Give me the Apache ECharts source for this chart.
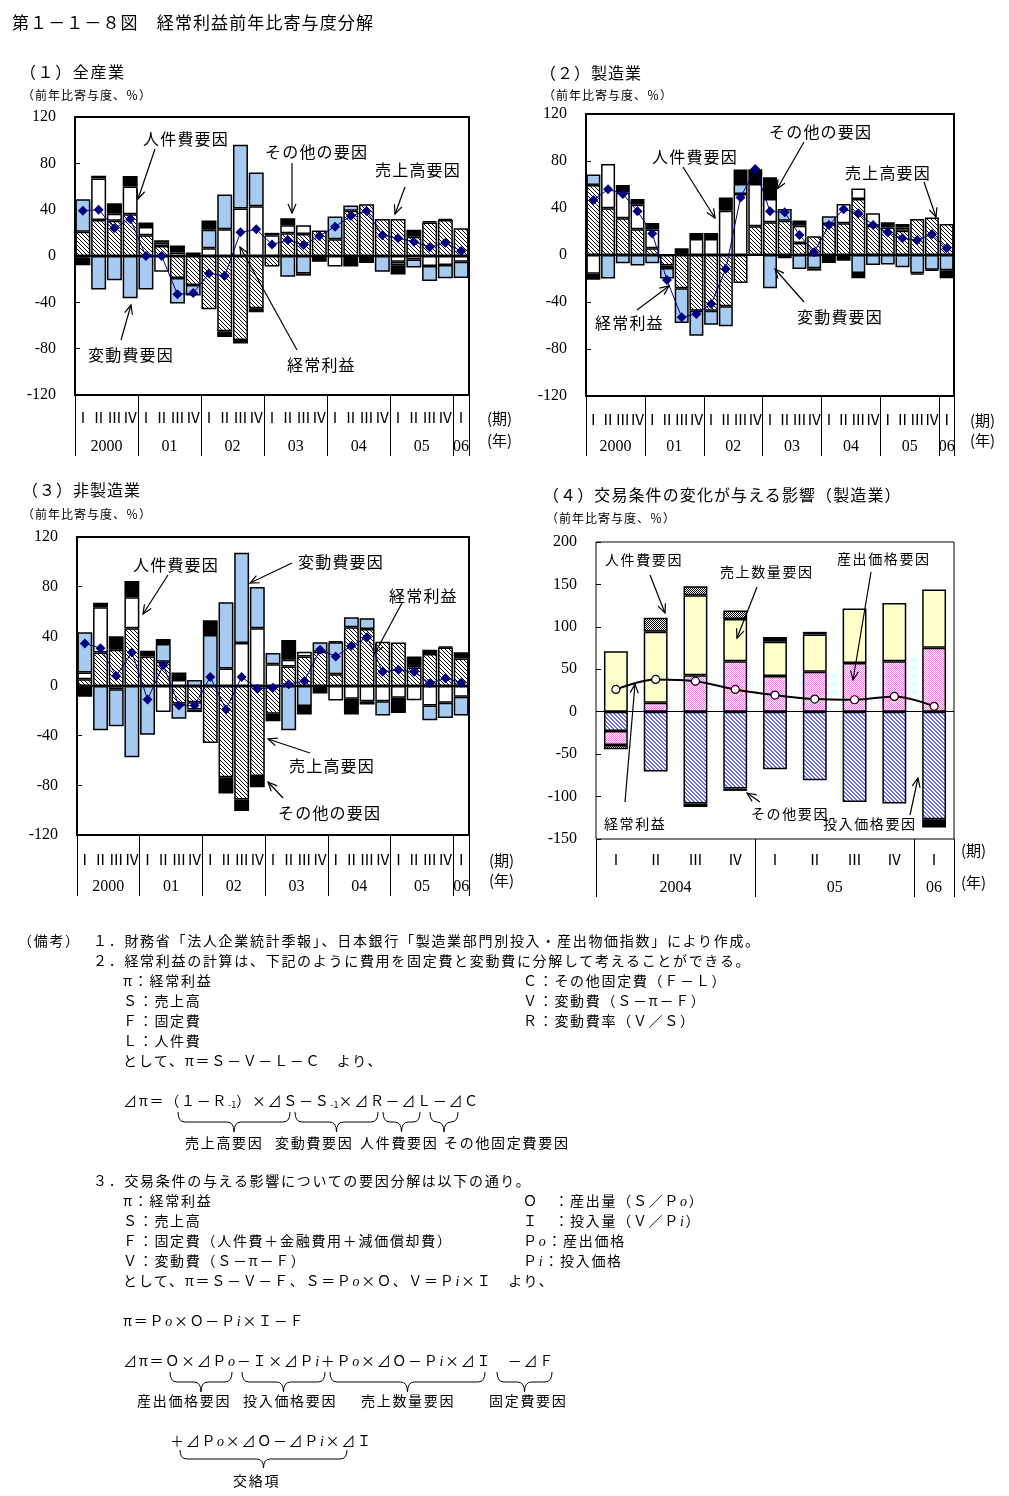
<!DOCTYPE html>
<html><head><meta charset="utf-8">
<script src="https://cdn.jsdelivr.net/npm/echarts@6/dist/echarts.min.js"></script>
<style>
body{margin:0;background:#fff;width:1009px;height:1496px;overflow:hidden;}
#c{position:absolute;left:0;top:0;width:1009px;height:1496px;}
.t{position:absolute;white-space:nowrap;font-family:'Noto Sans CJK JP',sans-serif;color:#000;line-height:20px;}
.t sub{font-size:9px;vertical-align:-2px;letter-spacing:0}
.t i{font-family:'Liberation Serif',serif;font-size:14px;}
#br{position:absolute;left:0;top:0;pointer-events:none;}
</style></head><body>
<div id="c"></div>
<svg id="br" width="1009" height="1496"></svg>
<script>
// ---------------- data ----------------
const quarterLabels = ['Ⅰ','Ⅱ','Ⅲ','Ⅳ','Ⅰ','Ⅱ','Ⅲ','Ⅳ','Ⅰ','Ⅱ','Ⅲ','Ⅳ','Ⅰ','Ⅱ','Ⅲ','Ⅳ','Ⅰ','Ⅱ','Ⅲ','Ⅳ','Ⅰ','Ⅱ','Ⅲ','Ⅳ','Ⅰ'];
const yearLabels = ['2000','01','02','03','04','05','06'];
const yearLabelPos = [2,6,10,14,18,22,24.5];
const yearBounds = [0,4,8,12,16,20,24,25];
const yTicks = {min:-120,max:120,interval:40};

// (1) 全産業
const all_sales    = [21,31,30.5,36,18,8.6,-19,-25,-46,-65,-72.5,-45,-9,19.6,19,22,14.4,39,44.6,32,32,16.7,29,31,24];
const all_labor    = [-1,36,6,24,7,-13.5,3,0,6.6,23,41,43,18,7,7.5,0,-9,0,0,0,-5,-3,-8.6,-7.8,-5];
const all_varcost  = [28,-29,-21,-36.5,-29,3,-22,-9,16,30,55,29,0,-18,-15,0,19.6,4.7,0,-13.5,-3,-7,-13,-11.5,-14];
const all_other    = [-7,2.3,9,9,4,2,6,3,8,-5,-3,-3.5,2,6,-2,-5,0,-9,-6,0,-8,6,1,1,0];
const all_profit   = [39,40,24,32,0,0,-33,-32,-15,-17,20.4,23,10,13.8,9.5,17.3,25.3,34.5,38.8,18,15.3,12.4,7.5,11.5,4.3];

// (2) 製造業
const mfg_sales    = [59.6,39.7,31.2,22,5.7,-9,-28.4,-47.4,-47.4,-43.7,-23.8,24.4,27.8,29.2,10.2,15.9,26.4,27,47.7,25,23.5,20.7,30.6,32,26.4];
const mfg_labor    = [-16,37.7,22,20.8,15.9,-2,0,13.6,13.6,37.7,52,36,19.9,0,14.8,0,0,16.5,9,10.5,0,2.8,0,0,0];
const mfg_varcost  = [9,-20,-7,-9,-7,-9,-29.5,-21.3,-12,-17,8.5,0,-28.4,10,-11.9,-11.3,6.5,0,-15.3,-8.5,-8,-10.5,-15.6,-12.5,-13];
const mfg_other    = [-5,0,6.3,4.9,5.6,0,5.7,5.1,5.1,11.3,12.2,12.6,18.4,-2.8,4.3,-2,-6.8,-4.8,-4.5,0,4.3,2.8,-1,-1,-6.8];
const mfg_profit   = [46.8,55.9,52,37.2,18.4,-21.3,-53,-50.2,-41.7,-11.9,49,73.2,37.2,36.3,17,2.3,25.5,39,35.5,25.5,19.3,14.2,12.8,17.6,5.7];

// (3) 非製造業
const non_sales    = [5.4,27,29.2,46.5,23.8,19.5,-14,-13,-46,-73.5,-91.4,-72.4,-22.4,15.7,23.8,27.6,9.5,47.3,46,35.7,35.1,14.9,25.7,31,22.2];
const non_labor    = [5.4,36.5,-2.7,25,0,-21,4.9,-6,0,14,34.6,46.5,17.6,5.4,3.8,0,-11.6,-10.3,-12.2,-12.2,-9.5,-11.4,-15.7,-13.5,-8.6];
const non_varcost  = [32.4,-35.7,-29.7,-57.3,-39.2,14.3,-12.4,4.9,41,53.5,72.7,33.2,8.9,-35.7,-16.2,7.6,25.7,8.1,8.6,-11.6,0,0,-11.9,-12.2,-15.1];
const non_other    = [-8.6,3.5,10.8,13,4.6,4,6,-2,11.9,-13,-9.2,-9.2,-6,15.9,-6.8,-6,1,-12.7,-2.7,0,-12.2,8.9,3.5,0.8,4.9];
const non_profit   = [34.3,30.5,8.1,27,-10.8,16.8,-15.7,-15.7,7.3,-18.9,7.3,-2.2,-1.4,1.4,4,29.2,23.8,32.4,39.2,11.4,13,11.4,2.2,6.2,2.7];

// (4) 交易条件の変化が与える影響（製造業）
const tot_quarterLabels = ['Ⅰ','Ⅱ','Ⅲ','Ⅳ','Ⅰ','Ⅱ','Ⅲ','Ⅳ','Ⅰ'];
const tot_yearLabels = ['2004','05','06'];
const tot_yearLabelPos = [2,6,8.5];
const tot_yearBounds = [0,4,8,9];
const tot_inputPrice  = [-22.7,-70.6,-108.2,-90.6,-67.8,-80.8,-106.3,-108.2,-126.7];
const tot_outputPrice = [-16.5,10.6,43.1,59.6,42,47,57.3,59.6,75.3];
const tot_quantity    = [71.4,83.5,94.1,49.8,40.4,44,64.3,68.6,68.6];
const tot_labor       = [-5,16.5,10.6,9.8,0,3.1,0,0,0];
const tot_other       = [0,0,-4,-2.7,5.5,0,0,0,-9.8];
const tot_profit      = [26.3,38,36,26.3,19.6,14.9,14.1,18,6.3];

// ---------------- patterns ----------------
function pat(size, draw){ const c=document.createElement('canvas'); c.width=c.height=size; const g=c.getContext('2d'); g.fillStyle='#fff'; g.fillRect(0,0,size,size); draw(g,size); return {image:c, repeat:'repeat'}; }
const hatchBlack = pat(4,(g,s)=>{g.fillStyle='#000'; for(let i=0;i<s;i++) g.fillRect(i,i,1,1);});
const hatchBlue  = pat(4,(g,s)=>{g.fillStyle='#6f6fe6'; for(let i=0;i<s;i++){g.fillRect(i,i,1,1); g.fillRect((i+1)%s,i,1,1);}});
const dotPink    = pat(2,(g)=>{g.fillStyle='#f37fe2'; g.fillRect(0,0,1,1); g.fillRect(1,1,1,1);});
const dotBlack   = pat(2,(g)=>{g.fillStyle='#000'; g.fillRect(0,0,1,1); g.fillRect(1,1,1,1);});

// ---------------- option ----------------
const option = {animation:false, backgroundColor:'#fff', grid:[], xAxis:[], yAxis:[], series:[], graphic:[]};
const SERIF = 'Liberation Serif';
const CJK = 'Noto Sans CJK JP';
function nz(a){ return a.map(v=> v===0 ? '-' : v); }

function addPanel(k, g, cats, yl, ylp, yb, ymin, ymax, yint, bw, tickLen, mRoman, mYear) {
  option.grid.push(Object.assign({show:true, borderColor:'#000', borderWidth:bw, backgroundColor:'#fff'}, g));
  option.xAxis.push({type:'category', gridIndex:k, data:cats, boundaryGap:true,
    axisLine:{show:false,onZero:false}, axisTick:{show:false},
    axisLabel:{interval:0, margin:mRoman, fontSize:15, fontFamily:CJK, color:'#000'}});
  option.xAxis.push({type:'value', gridIndex:k, min:0, max:cats.length, position:'bottom',
    axisLine:{show:false,onZero:false}, splitLine:{show:false},
    axisTick:{show:true, customValues:yb, length:tickLen, lineStyle:{color:'#000',width:1}},
    axisLabel:{customValues:ylp, margin:mYear, fontSize:16, fontFamily:SERIF, color:'#000',
      formatter:(v)=> yl[ylp.indexOf(v)] }});
  option.yAxis.push({type:'value', gridIndex:k, min:ymin, max:ymax, interval:yint,
    axisLine:{show:false}, splitLine:{show:false},
    axisTick:{show:true, inside:true, length:5, lineStyle:{color:'#000'}},
    axisLabel:{margin:19, fontSize:16, fontFamily:SERIF, color:'#000'}});
}
function bar(k, name, data, color, gap){
  option.series.push({type:'bar', name, xAxisIndex:2*k, yAxisIndex:k, stack:'s'+k, data:nz(data),
    barCategoryGap:gap, itemStyle:{color, borderColor:'#000', borderWidth:1.5}});
}
function lineS(k, data, isTot){
  option.series.push(isTot ? {
    type:'line', xAxisIndex:2*k, yAxisIndex:k, data, smooth:0.35, symbol:'circle', symbolSize:8, z:5,
    lineStyle:{color:'#000', width:2}, itemStyle:{color:'#fff', borderColor:'#000', borderWidth:1.2},
    markLine:{silent:true, symbol:'none', label:{show:false}, data:[{yAxis:0}], lineStyle:{color:'#000',width:1,type:'solid'}}
  } : {
    type:'line', xAxisIndex:2*k, yAxisIndex:k, data, symbol:'diamond', symbolSize:10, z:5,
    lineStyle:{color:'#000080', width:1}, itemStyle:{color:'#000080'},
    markLine:{silent:true, symbol:'none', label:{show:false}, data:[{yAxis:0}], lineStyle:{color:'#000',width:2,type:'solid'}}
  });
}

addPanel(0,{left:75,top:117,width:394,height:278}, quarterLabels, yearLabels, yearLabelPos, yearBounds, yTicks.min, yTicks.max, yTicks.interval, 2, 61, 15, 44);
addPanel(1,{left:586,top:114,width:368,height:282}, quarterLabels, yearLabels, yearLabelPos, yearBounds, yTicks.min, yTicks.max, yTicks.interval, 2, 60, 16, 43);
addPanel(2,{left:77,top:537,width:392,height:298}, quarterLabels, yearLabels, yearLabelPos, yearBounds, yTicks.min, yTicks.max, yTicks.interval, 2, 61, 17, 44);
addPanel(3,{left:596,top:542,width:358,height:297}, tot_quarterLabels, tot_yearLabels, tot_yearLabelPos, tot_yearBounds, -150, 200, 50, 1, 58, 13, 41);

const panels = [[all_sales,all_labor,all_varcost,all_other,all_profit],[mfg_sales,mfg_labor,mfg_varcost,mfg_other,mfg_profit],[non_sales,non_labor,non_varcost,non_other,non_profit]];
panels.forEach((p,k)=>{
  bar(k,'売上高要因',p[0],hatchBlack,'5%');
  bar(k,'人件費要因',p[1],'#fff','5%');
  bar(k,'変動費要因',p[2],'#a6caf0','5%');
  bar(k,'その他の要因',p[3],'#000','5%');
  lineS(k,p[4],false);
});
bar(3,'投入価格要因',tot_inputPrice,hatchBlue,'40%');
bar(3,'産出価格要因',tot_outputPrice,dotPink,'40%');
bar(3,'売上数量要因',tot_quantity,'#ffffcc','40%');
bar(3,'人件費要因',tot_labor,dotBlack,'40%');
bar(3,'その他要因',tot_other,'#000','40%');
lineS(3,tot_profit,true);

// annotation arrows
const arrows = [
 [155,149,138,199],[292,163,292,213],[405,187,395,214],[121,340,131,305],[297,350,240,247],
 [683,167,715,218],[804,142,777,189],[924,182,936,217],[637,310,669,286],[804,302,775,269],
 [168,575,143,614],[292,563,250,583],[402,603,375,653],[310,753,268,739],[283,798,268,782],
 [650,575,665,613],[757,587,737,638],[871,572,853,680],[625,802,635,684],[760,802,747,793],[910,815,918,778]
];
arrows.forEach(([x1,y1,x2,y2])=>{
  const a=Math.atan2(y2-y1,x2-x1), L=9, W=4;
  const bx=x2-L*Math.cos(a), by=y2-L*Math.sin(a);
  option.graphic.push({type:'line', z:100, shape:{x1,y1,x2,y2}, style:{stroke:'#000', lineWidth:1.2}});
  option.graphic.push({type:'polyline', z:100, shape:{points:[[bx+W*Math.sin(a),by-W*Math.cos(a)],[x2,y2],[bx-W*Math.sin(a),by+W*Math.cos(a)]]}, style:{stroke:'#000', fill:null, lineWidth:1.2}});
});

const chart = echarts.init(document.getElementById('c'), null, {renderer:'canvas'});
chart.setOption(option);

// ---------------- text ----------------
function addText(x, cy, html, size, ls){
  const d=document.createElement('div'); d.className='t';
  d.style.left=x+'px'; d.style.top=(cy-10)+'px'; d.style.fontSize=size+'px'; d.style.letterSpacing=ls+'px';
  d.innerHTML=html; document.body.appendChild(d);
}
const titles = [
 [12,22,'第１－１－８図　経常利益前年比寄与度分解',17,1.1],
 [20,71,'（１）全産業',16,1.6],[22,95,'（前年比寄与度、％）',12,1],
 [540,72,'（２）製造業',16,1],[543,95,'（前年比寄与度、％）',12,1],
 [22,489,'（３）非製造業',16,1],[22,514,'（前年比寄与度、％）',12,1],
 [543,494,'（４）交易条件の変化が与える影響（製造業）',16,1.1],[546,518,'（前年比寄与度、％）',12,1],
 [487,418,'(期)',15,0],[487,440,'(年)',15,0],
 [970,420,'(期)',15,0],[970,440,'(年)',15,0],
 [489,860,'(期)',15,0],[489,880,'(年)',15,0],
 [961,850,'(期)',15,0],[961,882,'(年)',15,0]
];
const annot = [
 [143,138,'人件費要因',16,1.2],[265,151,'その他の要因',16,1.2],[375,169,'売上高要因',16,1.2],[88,354,'変動費要因',16,1.2],[287,364,'経常利益',16,1.2],
 [652,156,'人件費要因',16,1.2],[769,131,'その他の要因',16,1.2],[845,172,'売上高要因',16,1.2],[595,322,'経常利益',16,1.2],[797,316,'変動費要因',16,1.2],
 [133,564,'人件費要因',16,1.2],[298,561,'変動費要因',16,1.2],[389,595,'経常利益',16,1.2],[289,765,'売上高要因',16,1.2],[278,812,'その他の要因',16,1.2],
 [605,559,'人件費要因',14,1.6],[720,571,'売上数量要因',14,1.6],[837,558,'産出価格要因',14,1.6],[604,823,'経常利益',14,1.6],[751,813,'その他要因',14,1.6],[823,823,'投入価格要因',14,1.6]
];
const notes = [
 [18,940,'（備考）'],
 [93,940,'１．財務省「法人企業統計季報」、日本銀行「製造業部門別投入・産出物価指数」により作成。'],
 [93,960,'２．経常利益の計算は、下記のように費用を固定費と変動費に分解して考えることができる。'],
 [123,980,'π：経常利益'],[523,980,'Ｃ：その他固定費（Ｆ－Ｌ）'],
 [123,1000,'Ｓ：売上高'],[523,1000,'Ｖ：変動費（Ｓ－π－Ｆ）'],
 [123,1020,'Ｆ：固定費'],[523,1020,'Ｒ：変動費率（Ｖ／Ｓ）'],
 [123,1040,'Ｌ：人件費'],
 [123,1060,'として、π＝Ｓ－Ｖ－Ｌ－Ｃ　より、'],
 [123,1100,'⊿π＝（１－Ｒ<sub>-1</sub>）×⊿Ｓ－Ｓ<sub>-1</sub>×⊿Ｒ－⊿Ｌ－⊿Ｃ'],
 [185,1142,'売上高要因'],[275,1142,'変動費要因'],[360,1142,'人件費要因'],[444,1142,'その他固定費要因'],
 [93,1180,'３．交易条件の与える影響についての要因分解は以下の通り。'],
 [123,1200,'π：経常利益'],[523,1200,'Ｏ　：産出量（Ｓ／Ｐ<i>o</i>）'],
 [123,1220,'Ｓ：売上高'],[523,1220,'Ｉ　：投入量（Ｖ／Ｐ<i>i</i>）'],
 [123,1240,'Ｆ：固定費（人件費＋金融費用＋減価償却費）'],[523,1240,'Ｐ<i>o</i>：産出価格'],
 [123,1260,'Ｖ：変動費（Ｓ－π－Ｆ）'],[523,1260,'Ｐ<i>i</i>：投入価格'],
 [123,1280,'として、π＝Ｓ－Ｖ－Ｆ、Ｓ＝Ｐ<i>o</i>×Ｏ、Ｖ＝Ｐ<i>i</i>×Ｉ　より、'],
 [123,1320,'π＝Ｐ<i>o</i>×Ｏ－Ｐ<i>i</i>×Ｉ－Ｆ'],
 [123,1360,'⊿π＝Ｏ×⊿Ｐ<i>o</i>－Ｉ×⊿Ｐ<i>i</i>＋Ｐ<i>o</i>×⊿Ｏ－Ｐ<i>i</i>×⊿Ｉ　－⊿Ｆ'],
 [137,1400,'産出価格要因'],[243,1400,'投入価格要因'],[361,1400,'売上数量要因'],[489,1400,'固定費要因'],
 [170,1440,'＋⊿Ｐ<i>o</i>×⊿Ｏ－⊿Ｐ<i>i</i>×⊿Ｉ'],
 [233,1480,'交絡項']
];
titles.forEach(t=>addText(...t));
annot.forEach(t=>addText(...t));
notes.forEach(([x,y,h])=>addText(x,y,h,14,1.7));

// braces
const braces = [[178,290,1112,20],[295,378,1112,20],[383,420,1112,20],[430,458,1112,20],
                [170,232,1372,20],[242,325,1372,20],[330,485,1372,20],[497,552,1372,20],[180,347,1450,18]];
const svg = document.getElementById('br');
braces.forEach(([x1,x2,y,h])=>{
  const m=(x1+x2)/2, r=Math.min(7,(x2-x1)/4), yh=y+h/2;
  const d=`M${x1},${y} Q${x1},${yh} ${x1+r},${yh} L${m-r},${yh} Q${m},${yh} ${m},${y+h} Q${m},${yh} ${m+r},${yh} L${x2-r},${yh} Q${x2},${yh} ${x2},${y}`;
  const p=document.createElementNS('http://www.w3.org/2000/svg','path');
  p.setAttribute('d',d); p.setAttribute('fill','none'); p.setAttribute('stroke','#000'); p.setAttribute('stroke-width','1');
  svg.appendChild(p);
});
</script>
</body></html>
